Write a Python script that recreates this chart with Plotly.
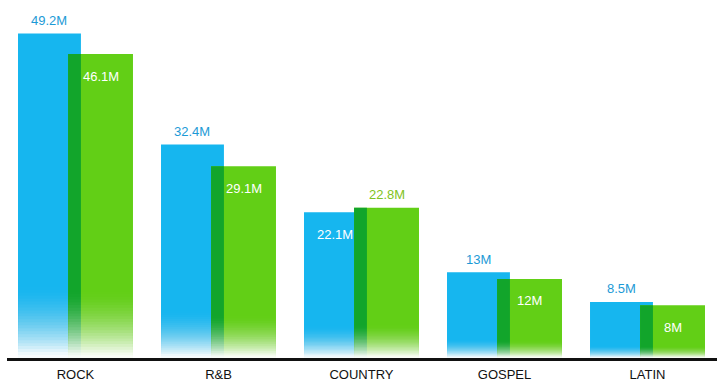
import plotly.graph_objects as go

# Music sales by genre (millions)
genres = ["ROCK", "R&B", "COUNTRY", "GOSPEL", "LATIN"]
series_a = [49.2, 32.4, 22.1, 13.0, 8.5]
series_b = [46.1, 29.1, 22.8, 12.0, 8.0]
labels_a = ["49.2M", "32.4M", "22.1M", "13M", "8.5M"]
labels_b = ["46.1M", "29.1M", "22.8M", "12M", "8M"]

BLUE = "#16b6ef"
GREEN = "#62cf16"
DARK_GREEN = "#12a52b"
BLUE_TXT = "#1c9ad6"
GREEN_TXT = "#7fc323"
FONT = "Liberation Sans Narrow, Arial Narrow, sans-serif"

idx = list(range(len(genres)))

# bar geometry in category units
A_OFF, A_W = -0.402, 0.44
B_OFF, B_W = -0.052, 0.454
SHADOW_W = A_OFF + A_W - B_OFF  # overlap of the two bars

fig = go.Figure()
fig.add_bar(x=idx, y=series_a, offset=A_OFF, width=A_W,
            marker=dict(color=BLUE, line=dict(width=0)), hoverinfo="skip")
fig.add_bar(x=idx, y=series_b, offset=B_OFF, width=B_W,
            marker=dict(color=GREEN, line=dict(width=0)), hoverinfo="skip")
fig.add_bar(x=idx, y=series_b, offset=B_OFF, width=SHADOW_W,
            marker=dict(color=DARK_GREEN, line=dict(width=0)), hoverinfo="skip")

# white fade toward the baseline, proportional to each bar's height.
# Nested rectangles all start at the baseline so there are no seams; each
# layer's opacity is chosen so the stacked whiteness follows a smooth curve.
FADE_FRAC = 0.22
N = 24
shapes = []


def whiteness(t):
    # t = 0 at top of fade band, 1 at baseline
    return min(0.97, t ** 1.6)


def fade(x0, x1, v):
    h = v * FADE_FRAC
    prev = 0.0
    for k in range(N):
        w = whiteness((k + 1) / N)
        o = 1 - (1 - w) / (1 - prev)
        prev = w
        top = h * (1 - k / N)
        shapes.append(dict(type="rect", xref="x", yref="y", x0=x0, x1=x1,
                           y0=0, y1=top, fillcolor="white", opacity=o,
                           line=dict(width=0), layer="above"))


for i in idx:
    fade(i + A_OFF, i + B_OFF, series_a[i])
    fade(i + B_OFF, i + B_OFF + B_W, series_b[i])

# value labels: the taller bar of a pair gets its label above, the other inside
annotations = []
for i in idx:
    a, b = series_a[i], series_b[i]
    xa = i + A_OFF + A_W / 2
    xb = i + B_OFF + B_W / 2
    a_top = a >= b
    annotations.append(dict(
        x=xa, y=a, text=labels_a[i], showarrow=False, xref="x", yref="y",
        yanchor="middle", yshift=13 if a_top else -22,
        font=dict(family=FONT, size=13, color=BLUE_TXT if a_top else "white")))
    annotations.append(dict(
        x=xb, y=b, text=labels_b[i], showarrow=False, xref="x", yref="y",
        yanchor="middle", yshift=-22 if a_top else 13,
        font=dict(family=FONT, size=13, color="white" if a_top else GREEN_TXT)))

fig.update_layout(
    width=717, height=383,
    margin=dict(l=7, r=0, t=0, b=25, autoexpand=False),
    paper_bgcolor="white", plot_bgcolor="white",
    barmode="overlay", showlegend=False,
    shapes=shapes, annotations=annotations,
    xaxis=dict(range=[-0.479, 4.486], tickvals=idx, ticktext=genres,
               showgrid=False, zeroline=False, showline=True,
               linecolor="#111111", linewidth=2.5, ticks="",
               ticklabelstandoff=3,
               tickfont=dict(family=FONT, size=13, color="#111111")),
    yaxis=dict(range=[0, 54.3], visible=False, showgrid=False, zeroline=False),
)

fig.write_html("out.html")
